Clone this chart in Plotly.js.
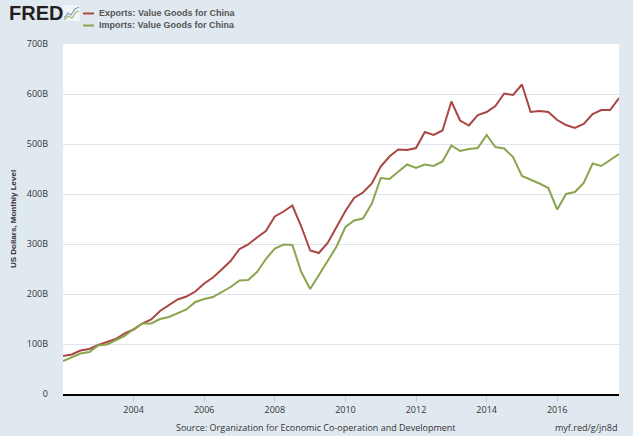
<!DOCTYPE html>
<html>
<head>
<meta charset="utf-8">
<script src="https://cdn.plot.ly/plotly-3.0.1.min.js"></script>
<style>
  html, body { margin: 0; padding: 0; background: #e1e9f0; }
  #c1 { width: 633px; height: 436px; }
</style>
</head>
<body>
<div id="c1"></div>
<script>
// quarterly, 2002Q1 .. 2017Q4, billions of US dollars
var startYear = 2002;
var exportsChina = [76, 79, 87, 90, 98, 104, 110, 121, 129, 141,
                    149, 166, 178, 189, 195, 205, 221, 233, 249, 266,
                    290, 299, 313, 326, 355, 365, 377, 335, 287, 282,
                    302, 334, 366, 392, 403, 421, 455, 475, 489, 488,
                    492, 524, 518, 527, 585, 547, 537, 558, 564, 576,
                    601, 598, 619, 564, 566, 564, 548, 538, 532, 540,
                    560, 568, 568, 592];
var importsChina = [66, 73, 81, 84, 97, 99, 108, 116, 130, 141,
                    141, 150, 154, 162, 169, 184, 190, 194, 204, 214,
                    227, 228, 244, 270, 291, 299, 298, 244, 210, 239,
                    266, 295, 334, 347, 351, 381, 432, 430, 444, 459,
                    452, 459, 456, 465, 497, 486, 490, 492, 518, 494,
                    491, 474, 436, 429, 421, 412, 369, 400, 404, 422,
                    461, 456, 468, 480];
var xTickVals = ['2004-01-01', '2006-01-01', '2008-01-01', '2010-01-01', '2012-01-01', '2014-01-01', '2016-01-01'];
var xTickText = ['2004', '2006', '2008', '2010', '2012', '2014', '2016'];
var yTickVals = [0, 100, 200, 300, 400, 500, 600, 700];
var yTickText = ['0', '100B', '200B', '300B', '400B', '500B', '600B', '700B'];
var seriesNames = ['Exports: Value Goods for China', 'Imports: Value Goods for China'];
var seriesColors = ['#aa4643', '#89a54e'];

var dates = [];
for (var i = 0; i < exportsChina.length; i++) {
	var yr = startYear + Math.floor(i / 4);
	var mo = (i % 4) * 3 + 1;
	dates.push(yr + '-' + (mo < 10 ? '0' + mo : mo) + '-01');
}

var W = 633, H = 436, ML = 63, MR = 14, MT = 44, MB = 42;
function px(x) { return (x - ML) / (W - ML - MR); }
function py(y) { return (H - MB - y) / (H - MT - MB); }

var trace1 = {
	x: dates,
	y: exportsChina,
	name: seriesNames[0],
	mode: 'lines',
	type: 'scatter',
	line: {color: seriesColors[0], width: 2}
};
var trace2 = {
	x: dates,
	y: importsChina,
	name: seriesNames[1],
	mode: 'lines',
	type: 'scatter',
	line: {color: seriesColors[1], width: 2}
};

var lblFont = {family: 'Open Sans, sans-serif', size: 9, color: '#333333'};

var shapes = [
	// legend samples
	{type: 'line', xref: 'paper', yref: 'paper', x0: px(83), x1: px(94), y0: py(13.5), y1: py(13.5),
	 line: {color: seriesColors[0], width: 2}},
	{type: 'line', xref: 'paper', yref: 'paper', x0: px(83), x1: px(94), y0: py(25.5), y1: py(25.5),
	 line: {color: seriesColors[1], width: 2}},
	// little logo chart icon
	{type: 'rect', xref: 'paper', yref: 'paper', x0: px(63), x1: px(80), y0: py(21), y1: py(5),
	 fillcolor: '#f2f5f7', line: {width: 0}},
	{type: 'path', xref: 'paper', yref: 'paper',
	 path: 'M ' + px(64) + ' ' + py(18) + ' L ' + px(68) + ' ' + py(13) + ' L ' + px(71) + ' ' + py(15) +
	       ' L ' + px(75) + ' ' + py(9) + ' L ' + px(79) + ' ' + py(7),
	 line: {color: '#7fa3c7', width: 1.2}},
	{type: 'path', xref: 'paper', yref: 'paper',
	 path: 'M ' + px(64) + ' ' + py(20) + ' L ' + px(68) + ' ' + py(16) + ' L ' + px(72) + ' ' + py(18) +
	       ' L ' + px(76) + ' ' + py(12) + ' L ' + px(79) + ' ' + py(11),
	 line: {color: '#9dbb6a', width: 1.2}}
];

var annotations = [
	{text: '<b>FRED</b>', xref: 'paper', yref: 'paper', x: px(7), y: py(13), xanchor: 'left', yanchor: 'middle',
	 showarrow: false, font: {family: 'Liberation Sans, Arial, sans-serif', size: 20, color: '#231f20'}},
	{text: '<b>' + seriesNames[0] + '</b>', xref: 'paper', yref: 'paper', x: px(97), y: py(13.5),
	 xanchor: 'left', yanchor: 'middle', showarrow: false,
	 font: {family: 'Liberation Sans, Arial, sans-serif', size: 9, color: '#555555'}},
	{text: '<b>' + seriesNames[1] + '</b>', xref: 'paper', yref: 'paper', x: px(97), y: py(25.5),
	 xanchor: 'left', yanchor: 'middle', showarrow: false,
	 font: {family: 'Liberation Sans, Arial, sans-serif', size: 9, color: '#555555'}},
	{text: 'Source: Organization for Economic Co-operation and Development', xref: 'paper', yref: 'paper',
	 x: px(316), y: py(427), xanchor: 'center', yanchor: 'middle', showarrow: false, font: lblFont},
	{text: 'myf.red/g/jn8d', xref: 'paper', yref: 'paper', x: px(619), y: py(427),
	 xanchor: 'right', yanchor: 'middle', showarrow: false, font: lblFont}
];

var layout = {
	width: W,
	height: H,
	margin: {l: ML, r: MR, t: MT, b: MB, pad: 0},
	paper_bgcolor: '#e1e9f0',
	plot_bgcolor: '#ffffff',
	showlegend: false,
	xaxis: {
		type: 'date',
		range: ['2002-01-01', '2017-10-01'],
		tickmode: 'array',
		tickvals: xTickVals,
		ticktext: xTickText,
		showgrid: false,
		zeroline: false,
		showline: true,
		linecolor: '#000000',
		linewidth: 2,
		ticks: 'outside',
		ticklen: 6,
		tickcolor: '#c3ccd6',
		tickwidth: 1,
		tickfont: lblFont
	},
	yaxis: {
		range: [0, 700],
		tickmode: 'array',
		tickvals: yTickVals,
		ticktext: yTickText,
		showgrid: true,
		gridcolor: '#dde4ee',
		gridwidth: 1,
		zeroline: false,
		showline: false,
		ticks: '',
		ticklabelstandoff: 14,
		tickfont: lblFont,
		title: {
			text: '<b>US Dollars, Monthly Level</b>',
			standoff: 8,
			font: {family: 'Liberation Sans, Arial, sans-serif', size: 8, color: '#333333'}
		}
	},
	shapes: shapes,
	annotations: annotations
};

var data = [trace1, trace2];
Plotly.newPlot('c1', data, layout, {displayModeBar: false, staticPlot: true});
</script>
</body>
</html>
